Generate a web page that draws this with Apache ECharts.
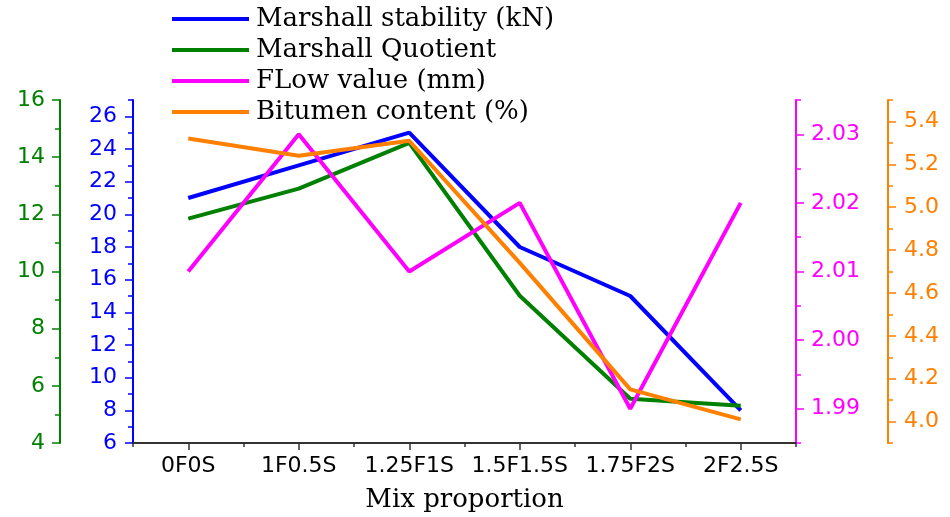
<!DOCTYPE html>
<html>
<head>
<meta charset="utf-8">
<script src="https://cdn.jsdelivr.net/npm/echarts@6/dist/echarts.min.js"></script>
<style>html,body{margin:0;padding:0;background:#fff}#c{width:950px;height:517px}</style>
</head>
<body>
<div id="c"></div>
<script>
// ---- data ----
const categories = ['0F0S', '1F0.5S', '1.25F1S', '1.5F1.5S', '1.75F2S', '2F2.5S'];
const stability = [21, 23, 25, 18, 15, 8];            // Marshall stability (kN)
const quotient = [11.85, 12.9, 14.5, 9.15, 5.55, 5.3]; // Marshall Quotient
const flow = [2.01, 2.03, 2.01, 2.02, 1.99, 2.02];     // FLow value (mm)
const bitumen = [5.32, 5.24, 5.31, 4.74, 4.15, 4.01];  // Bitumen content (%)

// ---- tick labels ----
const quotientTicks = [4, 6, 8, 10, 12, 14, 16];
const quotientMinor = [5, 7, 9, 11, 13, 15];
const stabilityTicks = [6, 8, 10, 12, 14, 16, 18, 20, 22, 24, 26];
const stabilityMinor = [7, 9, 11, 13, 15, 17, 19, 21, 23, 25, 27];
const flowTicks = [1.99, 2.00, 2.01, 2.02, 2.03];
const flowMinor = [1.985, 1.995, 2.005, 2.015, 2.025, 2.035];
const bitumenTicks = [4.0, 4.2, 4.4, 4.6, 4.8, 5.0, 5.2, 5.4];
const bitumenMinor = [3.9, 4.1, 4.3, 4.5, 4.7, 4.9, 5.1, 5.3, 5.5];

const names = ['Marshall stability (kN)', 'Marshall Quotient', 'FLow value (mm)', 'Bitumen content (%)'];
const BLUE = '#0000ff', GREEN = '#008000', MAGENTA = '#ff00ff', ORANGE = '#ff8000';
const SANS = 'DejaVu Sans', SERIF = 'DejaVu Serif';

function mainY(position, offset, min, max, color, ticks, fmt, margin) {
  return {
    type: 'value', position, offset, min, max,
    axisLine: { show: true, lineStyle: { color, width: 2 } },
    axisTick: { show: true, inside: false, length: 8, lineStyle: { color, width: 1.5 }, customValues: ticks },
    axisLabel: { show: true, color, fontFamily: SANS, fontSize: 22, margin, customValues: ticks, formatter: fmt },
    splitLine: { show: false }
  };
}
function minorY(position, offset, min, max, color, ticks) {
  return {
    type: 'value', position, offset, min, max,
    axisLine: { show: false },
    axisTick: { show: true, inside: false, length: 5, lineStyle: { color, width: 1.5 }, customValues: ticks },
    axisLabel: { show: false },
    splitLine: { show: false }
  };
}

const chart = echarts.init(document.getElementById('c'));
chart.setOption({
  animation: false,
  backgroundColor: '#fff',
  grid: { left: 133, right: 154, top: 100, bottom: 74, containLabel: false, outerBoundsMode: 'none' },
  legend: {
    orient: 'vertical', left: 172, top: 6, padding: 0,
    icon: 'rect', itemWidth: 77, itemHeight: 4, itemGap: 5,
    textStyle: { fontFamily: SERIF, fontSize: 26, lineHeight: 26, color: '#000', padding: [0, 0, 0, 2] },
    data: names
  },
  xAxis: [
    {
      type: 'category', data: categories, boundaryGap: true, position: 'bottom',
      axisLine: { show: true, lineStyle: { color: '#333', width: 2 } },
      axisTick: { show: true, alignWithLabel: true, length: 7, lineStyle: { color: '#333', width: 1.5 } },
      axisLabel: { color: '#000', fontFamily: SANS, fontSize: 22, margin: 12, interval: 0 },
      splitLine: { show: false },
      name: 'Mix proportion', nameLocation: 'middle', nameGap: 44,
      nameTextStyle: { fontFamily: SERIF, fontSize: 26, color: '#000' }
    },
    {
      type: 'category', data: categories, boundaryGap: true, position: 'bottom',
      axisLine: { show: false },
      axisTick: { show: true, alignWithLabel: false, interval: 0, length: 4, lineStyle: { color: '#333', width: 1.5 } },
      axisLabel: { show: false },
      splitLine: { show: false }
    }
  ],
  yAxis: [
    mainY('left', 73, 4, 16, GREEN, quotientTicks, v => String(v), 15),
    mainY('left', 0, 6, 27, BLUE, stabilityTicks, v => String(v), 16),
    mainY('right', 0, 1.985, 2.035, MAGENTA, flowTicks, v => v.toFixed(2), 15),
    mainY('right', 92, 3.9, 5.5, ORANGE, bitumenTicks, v => v.toFixed(1), 16),
    minorY('left', 73, 4, 16, GREEN, quotientMinor),
    minorY('left', 0, 6, 27, BLUE, stabilityMinor),
    minorY('right', 0, 1.985, 2.035, MAGENTA, flowMinor),
    minorY('right', 92, 3.9, 5.5, ORANGE, bitumenMinor)
  ],
  series: [
    { name: names[0], type: 'line', yAxisIndex: 1, data: stability, symbol: 'none', itemStyle: { color: BLUE }, lineStyle: { width: 4, color: BLUE } },
    { name: names[1], type: 'line', yAxisIndex: 0, data: quotient, symbol: 'none', itemStyle: { color: GREEN }, lineStyle: { width: 4, color: GREEN } },
    { name: names[2], type: 'line', yAxisIndex: 2, data: flow, symbol: 'none', itemStyle: { color: MAGENTA }, lineStyle: { width: 4, color: MAGENTA } },
    { name: names[3], type: 'line', yAxisIndex: 3, data: bitumen, symbol: 'none', itemStyle: { color: ORANGE }, lineStyle: { width: 4, color: ORANGE } }
  ]
});
</script>
</body>
</html>
